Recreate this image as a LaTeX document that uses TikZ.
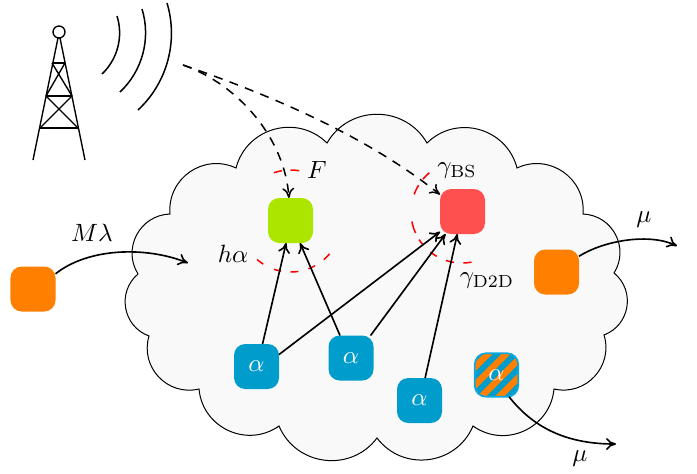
\documentclass[tikz,border=0pt]{standalone}
\usetikzlibrary{arrows.meta}
\definecolor{cloudfill}{RGB}{249,249,249}
\definecolor{boxgreen}{RGB}{172,229,0}
\definecolor{boxred}{RGB}{255,80,80}
\definecolor{boxorange}{RGB}{255,128,0}
\definecolor{boxblue}{RGB}{0,157,204}
\definecolor{boxedge}{RGB}{10,170,225}
\tikzset{
  sq/.style={minimum size=18pt,inner sep=0pt,outer sep=0pt,rounded corners=4.5pt,text=white},
  lobe/.style={bend left=60,looseness=1.135},
  wave/.style={line width=.6pt,bend left=32,looseness=.92},
  tower/.style={line width=.55pt},
  tip/.style={-{Computer Modern Rightarrow[length=4pt,width=4.8pt]}},
  link/.style={line width=.65pt,tip},
  dashlink/.style={line width=.6pt,tip,dash pattern=on 3.6pt off 3pt},
  reddash/.style={red,line width=.6pt},
  lab/.style={inner sep=0pt}
}
\newcommand{\redarc}[4]{\draw[reddash] plot[smooth,domain=#3:#4,samples=5] ({#1+51*cos(\x)},{#2-51*sin(\x)});}
\begin{document}
\begin{tikzpicture}[x=.4pt,y=-.4pt]
\useasboundingbox (0,0) rectangle (697,473);
% cloud
\draw[fill=cloudfill,line width=.4pt]
  (236,168) to[lobe] (327,143) to[lobe] (427,143) to[lobe] (517,168)
  to[lobe] (583,214) to[lobe] (614,273) to[lobe] (604,335)
  to[lobe] (554,389) to[lobe] (473,426) to[lobe] (377,438)
  to[lobe] (279,426) to[lobe] (199,389) to[lobe] (149,336)
  to[lobe] (138,274) to[lobe] (170,214) to[lobe] cycle;
% tower
\draw[tower] (59,32) circle[radius=6];
\draw[tower] (58,38) -- (33,160) (60,38) -- (85,160);
\draw[tower] (52,63) -- (65,63) (46,96) -- (72,96) (40,128) -- (78,128);
\draw[tower] (52,63) -- (72,96) (65,63) -- (46,96);
\draw[tower] (46,96) -- (78,128) (72,96) -- (40,128);
% waves
\draw[wave] (117,16) to (102,74);
\draw[wave] (142,9) to (120,92);
\draw[wave] (167,3) to (138,110);
% boxes
\node[sq,fill=boxgreen] (green) at (290.5,220.5) {};
\node[sq,fill=boxred] (redbox) at (462.5,211.5) {};
\node[sq,fill=boxorange] (left) at (33,289) {};
\node[sq,fill=boxorange] (right) at (556.5,272) {};
\node[sq,fill=boxblue] (a1) at (256.5,366.5) {$\alpha$};
\node[sq,fill=boxblue] (a2) at (351,358) {$\alpha$};
\node[sq,fill=boxblue] (a3) at (419.5,400.5) {$\alpha$};
\node[sq,fill=boxblue,draw=boxedge,line width=.7pt,minimum size=17.4pt,
  path picture={\foreach \d in {-47.5,-29.5,...,43}{\draw[boxorange,line width=2.56pt] ({\d+40},-40) -- ({\d-40},40);}}]
  (a4) at (496.5,375) {};
\node[lab,text=white] (a4t) at (a4.center) {$\alpha$};
% red arcs
\redarc{290.5}{221}{99.8}{109}
\redarc{290.5}{221}{80.2}{90}
\redarc{290.5}{221}{229}{237.7}
\redarc{290.5}{221}{251}{259.3}
\redarc{290.5}{221}{270}{278.8}
\redarc{290.5}{221}{290.5}{298.8}
\redarc{290.5}{221}{310.7}{320}
\redarc{462}{212}{129.7}{140.1}
\redarc{462}{212}{148.3}{159.8}
\redarc{462}{212}{190.8}{204.4}
\redarc{462}{212}{212.7}{220}
\redarc{462}{212}{231.8}{240.4}
\redarc{462}{212}{251.6}{261}
\redarc{462}{212}{271.5}{280.7}
% free ends
\coordinate (sig) at (183,65);
\coordinate (leftend) at (188,263);
\coordinate (rightend) at (677,246);
\coordinate (botend) at (616,444);
% connectors
\draw[link] (a1.75) -- (green.-101);
\draw[link] (a2.116) -- (green.-67);
\draw[link] (a1.28) -- (redbox.-138);
\draw[link] (a2.49) -- (redbox.-127);
\draw[link] (a3.76) -- (redbox.-103);
\draw[link] (left.34) .. controls (88,248) and (145,246) .. (leftend);
\draw[link] (right.35) .. controls (605,240) and (650,233) .. (rightend);
\draw[link] (a4.-60) .. controls (535,430) and (570,444) .. (botend);
\draw[dashlink] (sig) .. controls (240,85) and (285,140) .. (green.94);
\draw[dashlink] (sig) .. controls (270,95) and (365,135) .. (redbox.143);
% labels
\node[lab] (lF) at (317,170) {$F$};
\node[lab] (lh) at (233,254) {$h\alpha$};
\node[lab] (lb) at (457,171) {$\gamma_{\mathrm{BS}}$};
\node[lab] (ld) at (487,281) {$\gamma_{\mathrm{D2D}}$};
\node[lab] (lm) at (92,233) {$M\lambda$};
\node[lab] (lu1) at (644,220) {$\mu$};
\node[lab] (lu2) at (580,459) {$\mu$};
\end{tikzpicture}
\end{document}
